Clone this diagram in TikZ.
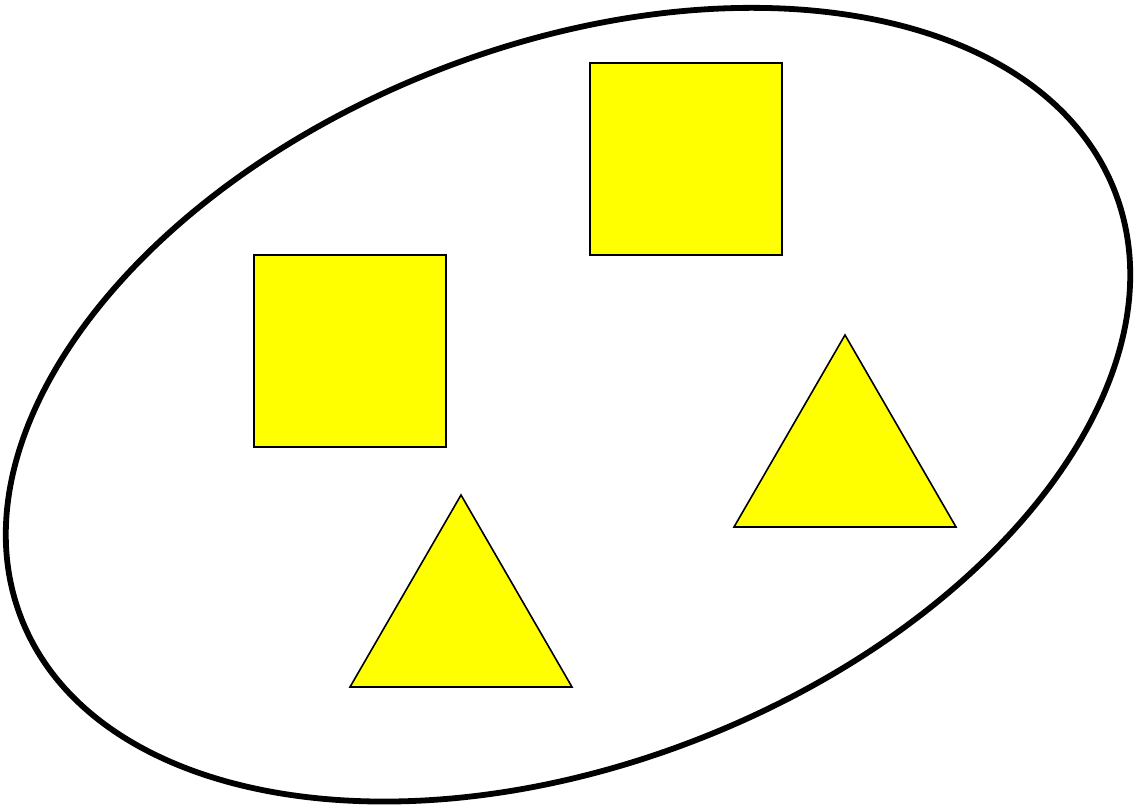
\documentclass[tikz,border=0pt]{standalone}
\definecolor{pureyellow}{RGB}{255,255,0}
\begin{document}
\begin{tikzpicture}[x=1pt,y=1pt,
  shapebox/.style={draw=black,fill=pureyellow,line width=1.6pt,line join=miter},
  outline/.style={draw=black,line width=5.8pt}]
\useasboundingbox (0,0) rectangle (1134,809);
\fill[white] (0,0) rectangle (1134,809);
\draw[outline,rotate around={21.35:(568,404.3)}] (568,404.3) ellipse [x radius=587pt, y radius=359pt];
\coordinate (s1a) at (590,554); \coordinate (s1b) at (782,746);
\coordinate (s2a) at (254,362); \coordinate (s2b) at (446,554);
\draw[shapebox] (s1a) rectangle (s1b);
\draw[shapebox] (s2a) rectangle (s2b);
\coordinate (t1a) at (845,474); \coordinate (t1b) at (734,282); \coordinate (t1c) at (956,282);
\coordinate (t2a) at (461,314); \coordinate (t2b) at (350,122); \coordinate (t2c) at (572,122);
\draw[shapebox] (t1a) -- (t1b) -- (t1c) -- cycle;
\draw[shapebox] (t2a) -- (t2b) -- (t2c) -- cycle;
\end{tikzpicture}
\end{document}
